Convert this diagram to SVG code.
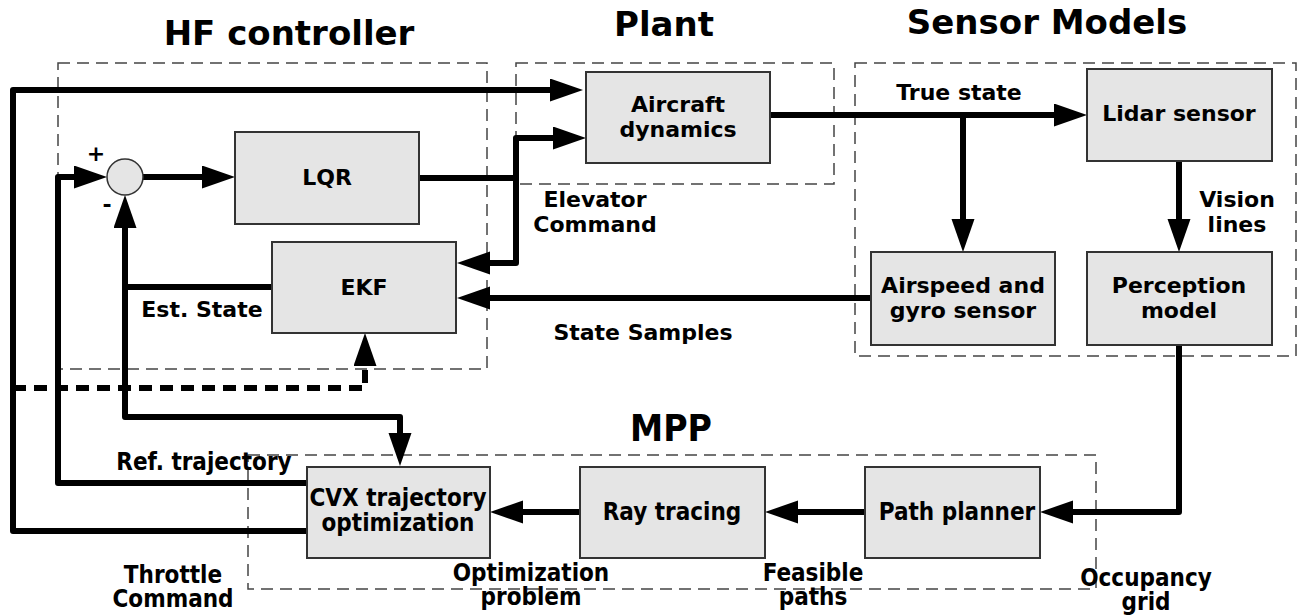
<svg xmlns="http://www.w3.org/2000/svg" width="1307" height="616" viewBox="0 0 1307 616">
  <style>
    .grp { fill: none; stroke: #444; stroke-width: 1.5; stroke-dasharray: 12 7; }
    .box { fill: #e5e5e5; stroke: #333; stroke-width: 2; }
    .wire { fill: none; stroke: #000; stroke-width: 6; stroke-linejoin: round; }
    .arr { marker-end: url(#ah); }
    .dash { stroke-dasharray: 13 8; stroke-linejoin: miter; }
    text { font-family: "DejaVu Sans", "Liberation Sans", sans-serif; font-weight: bold; fill: #000; text-anchor: middle; }
    .title { font-size: 34px; }
    .lbl { font-size: 22px; }
    .cnd { font-stretch: condensed; font-size: 24px; }
    .title.cnd { font-size: 37px; }
  </style>
  <defs>
    <marker id="ah" markerUnits="userSpaceOnUse" markerWidth="34" markerHeight="24" refX="22" refY="11.5" orient="auto">
      <path d="M0,0 L33,11.5 L0,23 z" fill="#000"/>
    </marker>
  </defs>

  <!-- group frames -->
  <g id="frames">
    <rect class="grp" x="58" y="63" width="429" height="306"/>
    <rect class="grp" x="516" y="63" width="318" height="121"/>
    <rect class="grp" x="855" y="63" width="441" height="293"/>
    <rect class="grp" x="248" y="455" width="848" height="134"/>
    <text class="title" x="289" y="45">HF controller</text>
    <text class="title" x="664" y="36">Plant</text>
    <text class="title" x="1047" y="34">Sensor Models</text>
    <text class="title cnd" x="671" y="441">MPP</text>
  </g>

  <!-- connectors -->
  <g id="connectors">
    <!-- throttle command -->
    <path class="wire arr" d="M307,531 H13 V90 H572"/>
    <path class="wire dash arr" d="M13,388 H365 V344"/>
    <!-- reference trajectory -->
    <path class="wire arr" d="M307,483 H58 V177 H96"/>
    <!-- estimated state -->
    <path class="wire arr" d="M272,287 H125 V206"/>
    <path class="wire arr" d="M125,287 V417 H400 V455"/>
    <!-- sum to LQR -->
    <path class="wire arr" d="M143,177 H224"/>
    <!-- elevator command -->
    <path class="wire" d="M419,178 H516"/>
    <path class="wire arr" d="M516,263 V138 H575"/>
    <path class="wire arr" d="M516,178 V263 H468"/>
    <!-- state samples -->
    <path class="wire arr" d="M871,298 H468"/>
    <!-- true state -->
    <path class="wire arr" d="M770,115 H1076"/>
    <path class="wire arr" d="M963,115 V241"/>
    <!-- vision lines -->
    <path class="wire arr" d="M1179,161 V241"/>
    <!-- occupancy grid -->
    <path class="wire arr" d="M1179,345 V512 H1051"/>
    <!-- feasible paths / optimization problem -->
    <path class="wire arr" d="M865,512 H776"/>
    <path class="wire arr" d="M580,512 H501"/>
  </g>

  <!-- edge labels -->
  <g id="edge-labels">
    <text class="lbl" x="96" y="161">+</text>
    <text class="lbl" x="107" y="212">-</text>
    <text class="lbl" x="202" y="317">Est. State</text>
    <text class="lbl" x="595" y="207">Elevator</text>
    <text class="lbl" x="595" y="232">Command</text>
    <text class="lbl" x="643" y="340">State Samples</text>
    <text class="lbl" x="959" y="100">True state</text>
    <text class="lbl" x="1237" y="207">Vision</text>
    <text class="lbl" x="1237" y="232">lines</text>
    <text class="lbl cnd" x="204" y="470">Ref. trajectory</text>
    <text class="lbl cnd" x="173" y="583">Throttle</text>
    <text class="lbl cnd" x="173" y="607">Command</text>
    <text class="lbl cnd" x="531" y="581">Optimization</text>
    <text class="lbl cnd" x="531" y="605">problem</text>
    <text class="lbl cnd" x="813" y="581">Feasible</text>
    <text class="lbl cnd" x="813" y="605">paths</text>
    <text class="lbl cnd" x="1146" y="586">Occupancy</text>
    <text class="lbl cnd" x="1146" y="610">grid</text>
  </g>

  <!-- nodes -->
  <g id="sum">
    <circle cx="125" cy="177" r="18" fill="#e5e5e5" stroke="#333" stroke-width="1.5"/>
  </g>
  <g id="lqr">
    <rect class="box" x="235" y="132" width="184" height="92"/>
    <text class="lbl" x="327" y="185">LQR</text>
  </g>
  <g id="ekf">
    <rect class="box" x="272" y="242" width="184" height="91"/>
    <text class="lbl" x="364" y="295">EKF</text>
  </g>
  <g id="aircraft">
    <rect class="box" x="586" y="72" width="184" height="91"/>
    <text class="lbl" x="678" y="112">Aircraft</text>
    <text class="lbl" x="678" y="137">dynamics</text>
  </g>
  <g id="lidar">
    <rect class="box" x="1087" y="69" width="185" height="92"/>
    <text class="lbl" x="1179" y="121">Lidar sensor</text>
  </g>
  <g id="airspeed">
    <rect class="box" x="871" y="252" width="184" height="93"/>
    <text class="lbl" x="963" y="293">Airspeed and</text>
    <text class="lbl" x="963" y="318">gyro sensor</text>
  </g>
  <g id="perception">
    <rect class="box" x="1087" y="252" width="185" height="93"/>
    <text class="lbl" x="1179" y="293">Perception</text>
    <text class="lbl" x="1179" y="318">model</text>
  </g>
  <g id="path-planner">
    <rect class="box" x="865" y="467" width="175" height="91"/>
    <text class="lbl cnd" x="957" y="520">Path planner</text>
  </g>
  <g id="ray-tracing">
    <rect class="box" x="580" y="467" width="185" height="91"/>
    <text class="lbl cnd" x="672" y="520">Ray tracing</text>
  </g>
  <g id="cvx">
    <rect class="box" x="307" y="467" width="183" height="91"/>
    <text class="lbl cnd" x="398" y="506">CVX trajectory</text>
    <text class="lbl cnd" x="398" y="531">optimization</text>
  </g>
</svg>
